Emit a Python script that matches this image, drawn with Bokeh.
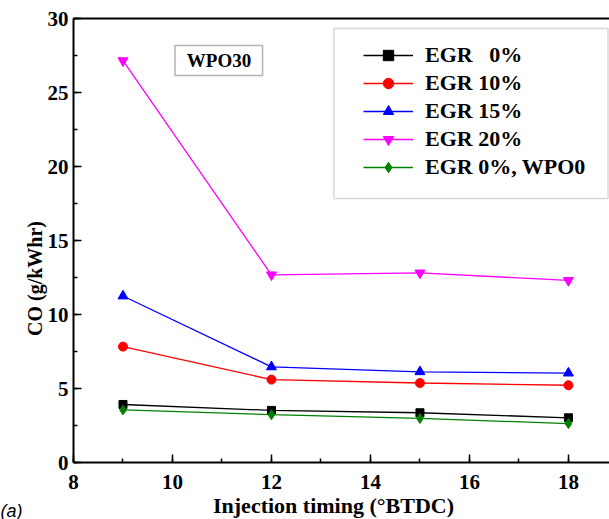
import math
from bokeh.plotting import figure
from bokeh.models import (Range1d, SingleIntervalTicker, LinearAxis, FixedTicker,
                          Label, BoxAnnotation, Legend, LegendItem)
from bokeh.embed import file_html
from bokeh.resources import INLINE

# ---- data ----
timing = [9, 12, 15, 18]
egr0 = [3.92, 3.52, 3.36, 3.02]
egr10 = [7.83, 5.60, 5.37, 5.22]
egr15 = [11.25, 6.46, 6.13, 6.04]
egr20 = [27.15, 12.68, 12.81, 12.30]
egr0_wpo0 = [3.55, 3.23, 2.98, 2.63]

series_names = ["EGR\u00a0\u00a0 0%", "EGR 10%", "EGR 15%", "EGR 20%", "EGR 0%, WPO0"]
series_vals = [egr0, egr10, egr15, egr20, egr0_wpo0]
series_colors = ["#000000", "#ff0000", "#0000ff", "#ff00ff", "#008000"]
series_markers = ["square", "circle", "triangle", "inverted_triangle", "diamond"]
series_sizes = [8, 9, 10, 10, 10]

x_title = "Injection timing (°BTDC)"
y_title = "CO (g/kWhr)"

SERIF = "Liberation Serif"

p = figure(width=609, height=519, output_backend="svg", toolbar_location=None,
           x_range=Range1d(8, 18.83), y_range=Range1d(0, 30),
           min_border_left=72, min_border_right=0, min_border_top=18,
           min_border_bottom=57)
p.outline_line_color = None
p.xgrid.visible = False
p.ygrid.visible = False
p.background_fill_color = "white"
p.border_fill_color = "white"

p.xaxis.ticker = SingleIntervalTicker(interval=2, num_minor_ticks=2)
p.yaxis.ticker = SingleIntervalTicker(interval=5, num_minor_ticks=2)
for ax in (p.xaxis, p.yaxis):
    ax.axis_line_width = 2
    ax.axis_line_color = "black"
    ax.major_tick_in = 8
    ax.major_tick_out = 0
    ax.minor_tick_in = 4
    ax.minor_tick_out = 0
    ax.major_tick_line_width = 1.5
    ax.minor_tick_line_width = 1.5
    ax.major_label_text_font = SERIF
    ax.major_label_text_font_style = "bold"
    ax.major_label_text_font_size = "21px"
    ax.major_label_text_color = "black"
p.xaxis.major_label_standoff = 12
p.yaxis.major_label_standoff = 5

# top border line
top_axis = LinearAxis(ticker=FixedTicker(ticks=[]), major_label_text_font_size="0px",
                      axis_line_width=2, major_tick_line_color=None,
                      minor_tick_line_color=None)
p.add_layout(top_axis, "above")

items = []
for name, vals, col, mk, sz in zip(series_names, series_vals, series_colors,
                                   series_markers, series_sizes):
    ln = p.line(timing, vals, line_color=col, line_width=1.3)
    sc = p.scatter(timing, vals, marker=mk, size=sz, fill_color=col, line_color=col)
    items.append(LegendItem(label=name, renderers=[ln, sc]))

# legend frame
p.add_layout(BoxAnnotation(left=13.26, right=18.80, top=29.32, bottom=17.84,
                           fill_color="white", fill_alpha=1.0,
                           line_color="#808080", line_width=1.5))
legend = Legend(items=items, location=(290, 282), border_line_color=None,
                background_fill_alpha=0, padding=10, spacing=2,
                glyph_width=50, glyph_height=26, label_height=26,
                label_standoff=12, label_text_font=SERIF,
                label_text_font_style="bold", label_text_font_size="22px",
                label_text_color="black")
p.add_layout(legend)

# WPO30 tag
p.add_layout(BoxAnnotation(left=10.05, right=11.82, top=28.18, bottom=26.15,
                           fill_color="white", fill_alpha=1.0,
                           line_color="black", line_width=1.5))
p.add_layout(Label(x=10.94, y=27.16, text="WPO30", text_align="center",
                   text_baseline="middle", text_font=SERIF, text_font_style="bold",
                   text_font_size="19px", text_color="black"))

# axis titles in the side panels (not clipped by the frame)
p.add_layout(Label(x=12, y=184, x_units="screen", y_units="screen", text=y_title,
                   angle=math.pi / 2, text_align="center", text_baseline="middle",
                   text_font=SERIF, text_font_style="bold", text_font_size="20px",
                   text_color="black"), "left")
p.add_layout(Label(x=0, y=-48, x_units="screen", y_units="screen", text="(a)",
                   text_align="left", text_baseline="middle",
                   text_font="Liberation Sans", text_font_style="italic",
                   text_font_size="18px", text_color="black"), "left")
p.add_layout(Label(x=260, y=11, x_units="screen", y_units="screen", text=x_title,
                   text_align="center", text_baseline="middle",
                   text_font=SERIF, text_font_style="bold", text_font_size="22px",
                   text_color="black"), "below")

open("out.html", "w").write(file_html(p, INLINE))
